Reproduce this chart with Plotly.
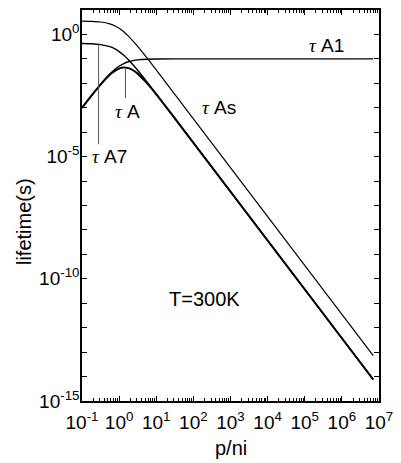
import numpy as np
import plotly.graph_objects as go

# ---- data (p/ni vs lifetime in s) ----
p_ni = [0.1, 0.178, 0.316, 0.562, 0.75, 1.0, 1.334, 1.778, 2.371, 3.162, 5.623, 10.0, 31.62, 7.0e6]
tau_As = [3.51, 3.44, 3.23, 2.70, 2.27, 1.78, 1.28, 0.853, 0.536, 0.323, 0.109, 0.0352, 3.55e-3, 7.2e-14]
tau_A7 = [0.425, 0.415, 0.385, 0.315, 0.261, 0.199, 0.141, 0.0924, 0.0573, 0.0342, 0.0115, 3.69e-3, 3.72e-4, 7.6e-15]
tau_A1 = [9.9e-4, 3.07e-3, 9.09e-3, 0.024, 0.036, 0.050, 0.064, 0.076, 0.0849, 0.0909, 0.0969, 0.099, 0.0999, 0.1]
tau_A = [9.88e-4, 3.05e-3, 8.88e-3, 0.0223, 0.0316, 0.040, 0.044, 0.0417, 0.0342, 0.0249, 0.0102, 3.56e-3, 3.70e-4, 7.6e-15]

# pointer lines (label leaders)
ptr_A7_p = [0.28, 0.28]
ptr_A7_tau = [0.42, 3.2e-5]
ptr_A_p = [1.48, 1.48]
ptr_A_tau = [0.044, 2.45e-3]

# tick labels
x_exps = list(range(-1, 8))
y_exps = list(range(-15, 2))

# curve labels: (text, p/ni, lifetime)
labels = [
    ("A1", 3.9e5, 0.34),
    ("As", 480, 1.02e-3),
    ("A", 1.7, 7.1e-4),
    ("A7", 0.56, 1.05e-5),
]
temp_label = ("T=300K", 205, 1.5e-11)

FONT = "Liberation Sans, Arial, sans-serif"
TAU = '<span style="font-family:Liberation Serif;font-style:italic">τ</span> '

fig = go.Figure()
line_specs = [(tau_As, 1.2), (tau_A7, 1.4), (tau_A1, 1.4), (tau_A, 2.0)]
for ys, w in line_specs:
    fig.add_trace(go.Scatter(x=p_ni, y=ys, mode="lines",
                             line=dict(color="black", width=w, shape="spline", smoothing=0.8),
                             showlegend=False, hoverinfo="skip"))
for xs, ys in [(ptr_A7_p, ptr_A7_tau), (ptr_A_p, ptr_A_tau)]:
    fig.add_trace(go.Scatter(x=xs, y=ys, mode="lines",
                             line=dict(color="#555555", width=1),
                             showlegend=False, hoverinfo="skip"))

for txt, px, ty in labels:
    fig.add_annotation(x=np.log10(px), y=np.log10(ty), xref="x", yref="y",
                       xanchor="center", yanchor="middle",
                       text=TAU + txt, showarrow=False,
                       font=dict(family=FONT, size=19, color="black"))
fig.add_annotation(x=np.log10(temp_label[1]), y=np.log10(temp_label[2]), xref="x", yref="y",
                   xanchor="center", yanchor="middle",
                   text=temp_label[0], showarrow=False,
                   font=dict(family=FONT, size=20, color="black"))

# axis titles
fig.add_annotation(x=-0.197, y=0.459, xref="paper", yref="paper", text="lifetime(s)",
                   xanchor="center", yanchor="middle",
                   textangle=-90, showarrow=False, font=dict(family=FONT, size=20, color="black"))
fig.add_annotation(x=0.503, y=-0.121, xref="paper", yref="paper", text="p/ni",
                   xanchor="center", yanchor="middle",
                   showarrow=False, font=dict(family=FONT, size=20, color="black"))

minor_x = [m * 10.0 ** k for k in range(-1, 7) for m in range(2, 10)]

fig.update_xaxes(type="log", range=[-1, 7], showgrid=False, zeroline=False,
                 showline=True, linecolor="black", linewidth=1.5, mirror="ticks",
                 ticks="inside", ticklen=5, tickwidth=1, tickcolor="black",
                 tickmode="array", tickvals=[10.0 ** k for k in x_exps],
                 ticktext=["10<sup>%d</sup>" % k for k in x_exps],
                 ticklabelstandoff=3,
                 tickfont=dict(family=FONT, size=19, color="black"),
                 minor=dict(tickmode="array", tickvals=minor_x, ticks="inside",
                            ticklen=3, tickcolor="black", showgrid=False))
fig.update_yaxes(type="log", range=[-15, 1], showgrid=False, zeroline=False,
                 showline=True, linecolor="black", linewidth=1.5, mirror="ticks",
                 ticks="inside", ticklen=5, tickwidth=1, tickcolor="black",
                 tickmode="array", tickvals=[10.0 ** k for k in y_exps],
                 ticktext=["10<sup>%d</sup>" % k if k % 5 == 0 else "" for k in y_exps],
                 ticklabelstandoff=-3,
                 tickfont=dict(family=FONT, size=19, color="black"))

fig.update_layout(width=401, height=463, margin=dict(l=82, r=19, t=8, b=61.5),
                  paper_bgcolor="white", plot_bgcolor="white")

fig.write_html("out.html")
